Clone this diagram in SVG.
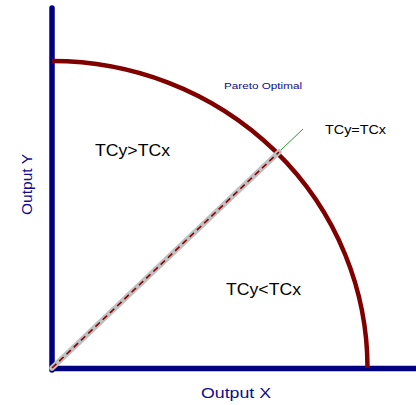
<svg xmlns="http://www.w3.org/2000/svg" width="416" height="405" viewBox="0 0 416 405">
<style>
.axis{stroke:#000080;stroke-width:5.5;fill:none}
.curve{stroke:#800000;stroke-width:4.5;fill:none}
.lbl{font-family:"Liberation Sans",Arial,sans-serif;fill:#000}
.blue{font-family:"Liberation Sans",Arial,sans-serif;fill:#0d0d8c}
</style>
<rect width="416" height="405" fill="#fff"/>
<g id="axes">
<line class="axis" x1="52" y1="8" x2="52" y2="370" stroke-linecap="round"/>
<line class="axis" x1="50" y1="368.5" x2="416" y2="368.5"/>
</g>
<g id="pareto-curve">
<path class="curve" d="M52,61 A315.5,307 0 0 1 367.5,368"/>
</g>
<g id="connectors">
<line x1="52" y1="368" x2="303" y2="129" stroke="#2a9a2a" stroke-width="1"/>
<line x1="52" y1="368" x2="279" y2="152" stroke="#c0c0c0" stroke-width="5.5" stroke-linecap="round"/>
<line x1="52" y1="368" x2="279" y2="152" stroke="#8b0000" stroke-width="1.6" stroke-dasharray="6 4"/>
</g>
<g id="labels">
<text class="lbl" x="95" y="156" font-size="16" textLength="75" lengthAdjust="spacingAndGlyphs">TCy&gt;TCx</text>
<text class="lbl" x="226" y="295" font-size="16" textLength="75" lengthAdjust="spacingAndGlyphs">TCy&lt;TCx</text>
<text class="lbl" x="325" y="134" font-size="13" textLength="61" lengthAdjust="spacingAndGlyphs">TCy=TCx</text>
<text class="blue" x="224" y="89" font-size="9.5" textLength="78" lengthAdjust="spacingAndGlyphs">Pareto Optimal</text>
<text class="blue" x="201" y="397.5" font-size="15" textLength="70" lengthAdjust="spacingAndGlyphs">Output X</text>
<text class="blue" transform="translate(31.5,215) rotate(-90)" font-size="15.5" textLength="61" lengthAdjust="spacingAndGlyphs">Output Y</text>
</g>
</svg>
